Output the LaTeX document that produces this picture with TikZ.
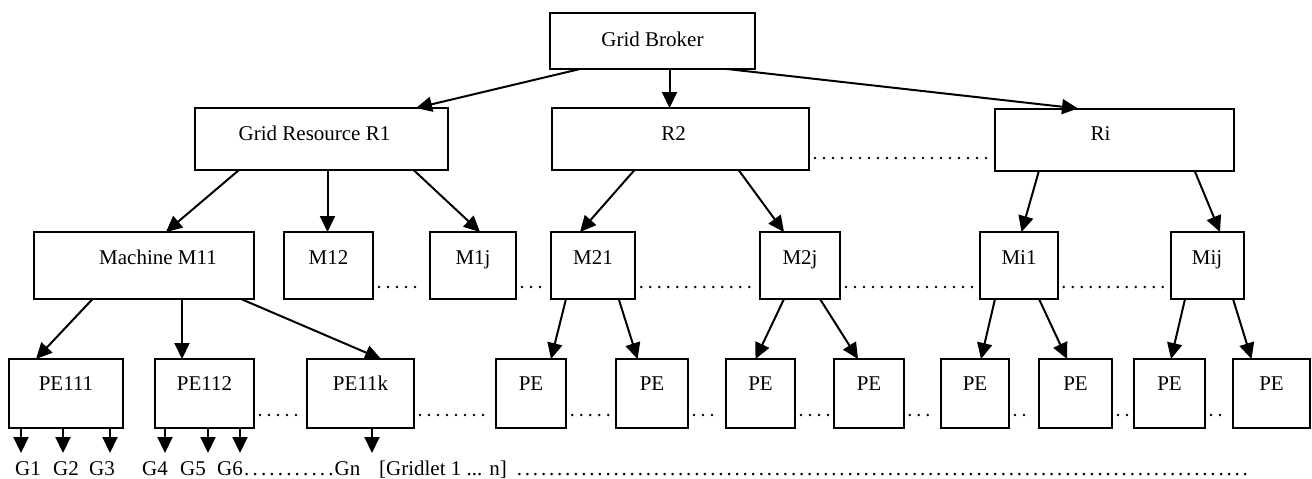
\documentclass[tikz,border=0pt]{standalone}
\usepackage{fontspec}
\setmainfont{Liberation Serif}
\usetikzlibrary{arrows.meta}
\newcommand{\dotrow}[1]{\makebox[#1]{\xleaders\hbox to 4pt{\hss.\hss}\hfill}}
\begin{document}
\begin{tikzpicture}[x=0.5pt,y=-0.5pt,
 font=\fontsize{10.5}{12}\selectfont,
 box/.style={draw, line width=1pt, inner sep=0pt, outer sep=0pt, text height=7pt},
 rowB/.style={box, text depth=2pt, minimum height=28pt},
 rowR/.style={box, text depth=6pt, minimum height=31pt},
 rowM/.style={box, text depth=8.5pt, minimum height=33.5pt},
 rowP/.style={box, text depth=10.5pt, minimum height=34.5pt},
 arr/.style={line width=1pt, -{Triangle[length=8pt,width=7.5pt]}},
 dots/.style={line width=1.4pt, line cap=round, dash pattern=on 0pt off 4.5pt, shorten <=3pt, shorten >=3pt},
 lbl/.style={anchor=base, inner sep=0pt}]
\useasboundingbox (0,0) rectangle (1312,478);

% top
\node[rowB, minimum width=102.5pt] (broker) at (652.5,41) {Grid Broker};
% resources
\node[rowR, minimum width=126.5pt] (r1) at (321.5,139) {Grid Resource R1\hspace*{7pt}};
\node[rowR, minimum width=128.5pt] (r2) at (680.5,139) {R2\hspace*{7pt}};
\node[rowR, minimum width=119.5pt] (ri) at (1114.5,139.5) {Ri\hspace*{14pt}};
% machines
\node[rowM, minimum width=110pt] (m11) at (144,265.5) {\hspace*{14pt}Machine M11};
\node[rowM, minimum width=44.5pt] (m12) at (328.5,265.5) {M12};
\node[rowM, minimum width=43pt] (m1j) at (473,265.5) {M1j};
\node[rowM, minimum width=42.25pt] (m21) at (593,265.5) {M21};
\node[rowM, minimum width=40pt] (m2j) at (800,265.5) {M2j};
\node[rowM, minimum width=38.75pt] (mi1) at (1019,265.5) {Mi1};
\node[rowM, minimum width=36.5pt] (mij) at (1207,265.5) {Mij};
% processing elements
\node[rowP, minimum width=57pt] (pe111) at (66,393.5) {PE111};
\node[rowP, minimum width=49.5pt] (pe112) at (204.5,393.5) {PE112};
\node[rowP, minimum width=53.5pt] (pe11k) at (360.5,393.5) {PE11k};
\node[rowP, minimum width=35.25pt] (p1) at (531,393.5) {PE};
\node[rowP, minimum width=36pt] (p2) at (652,393.5) {PE};
\node[rowP, minimum width=34.5pt] (p3) at (760.5,393.5) {PE};
\node[rowP, minimum width=34.75pt] (p4) at (869,393.5) {PE};
\node[rowP, minimum width=34pt] (p5) at (975,393.5) {PE};
\node[rowP, minimum width=36.5pt] (p6) at (1075.5,393.5) {PE};
\node[rowP, minimum width=35.5pt] (p7) at (1169.5,393.5) {PE};
\node[rowP, minimum width=38.5pt] (p8) at (1271.5,393.5) {PE};

% arrows broker -> resources
\draw[arr] (580,0 |- broker.south) -- (416,0 |- r1.north);
\draw[arr] (669.5,0 |- broker.south) -- (669.5,0 |- r2.north);
\draw[arr] (727,0 |- broker.south) -- (1078,0 |- ri.north);
% resources -> machines
\draw[arr] (239,0 |- r1.south) -- (166,0 |- m11.north);
\draw[arr] (327.5,0 |- r1.south) -- (327.5,0 |- m12.north);
\draw[arr] (413.6,0 |- r1.south) -- (480,0 |- m1j.north);
\draw[arr] (634.5,0 |- r2.south) -- (580,0 |- m21.north);
\draw[arr] (738.6,0 |- r2.south) -- (784,0 |- m2j.north);
\draw[arr] (1039,0 |- ri.south) -- (1021.5,0 |- mi1.north);
\draw[arr] (1194.5,0 |- ri.south) -- (1220,0 |- mij.north);
% machines -> PEs
\draw[arr] (92.6,0 |- m11.south) -- (36,0 |- pe111.north);
\draw[arr] (182,0 |- m11.south) -- (182,0 |- pe112.north);
\draw[arr] (241,0 |- m11.south) -- (381,0 |- pe11k.north);
\draw[arr] (566,0 |- m21.south) -- (551,0 |- p1.north);
\draw[arr] (618.7,0 |- m21.south) -- (637.6,0 |- p2.north);
\draw[arr] (784,0 |- m2j.south) -- (755.5,0 |- p3.north);
\draw[arr] (820,0 |- m2j.south) -- (858,0 |- p4.north);
\draw[arr] (995,0 |- mi1.south) -- (981,0 |- p5.north);
\draw[arr] (1039,0 |- mi1.south) -- (1067,0 |- p6.north);
\draw[arr] (1185,0 |- mij.south) -- (1171,0 |- p7.north);
\draw[arr] (1233,0 |- mij.south) -- (1251.5,0 |- p8.north);

% dotted links
\draw[dots] (r2.east |- 0,158) -- (ri.west |- 0,158);
\draw[dots] (m12.east |- 0,287) -- (m1j.west |- 0,287);
\draw[dots] (m1j.east |- 0,287) -- (m21.west |- 0,287);
\draw[dots] (m21.east |- 0,287) -- (m2j.west |- 0,287);
\draw[dots] (m2j.east |- 0,287) -- (mi1.west |- 0,287);
\draw[dots] (mi1.east |- 0,287) -- (mij.west |- 0,287);
\draw[dots] (pe112.east |- 0,415) -- (pe11k.west |- 0,415);
\draw[dots] (pe11k.east |- 0,415) -- (p1.west |- 0,415);
\draw[dots] (p1.east |- 0,415) -- (p2.west |- 0,415);
\draw[dots] (p2.east |- 0,415) -- (p3.west |- 0,415);
\draw[dots] (p3.east |- 0,415) -- (p4.west |- 0,415);
\draw[dots] (p4.east |- 0,415) -- (p5.west |- 0,415);
\draw[dots] (p5.east |- 0,415) -- (p6.west |- 0,415);
\draw[dots] (p6.east |- 0,415) -- (p7.west |- 0,415);
\draw[dots] (p7.east |- 0,415) -- (p8.west |- 0,415);

% gridlet arrows
\coordinate (a1) at (21,453);
\coordinate (a2) at (63,453);
\coordinate (a3) at (110,453);
\coordinate (a4) at (165,453);
\coordinate (a5) at (208,453);
\coordinate (a6) at (240,453);
\coordinate (a7) at (372,453);
\draw[arr] (pe111.south -| a1) -- (a1);
\draw[arr] (pe111.south -| a2) -- (a2);
\draw[arr] (pe111.south -| a3) -- (a3);
\draw[arr] (pe112.south -| a4) -- (a4);
\draw[arr] (pe112.south -| a5) -- (a5);
\draw[arr] (pe112.south -| a6) -- (a6);
\draw[arr] (pe11k.south -| a7) -- (a7);

% gridlet labels
\node[lbl] (g1) at (28,475) {G1};
\node[lbl] (g2) at (66,475) {G2};
\node[lbl] (g3) at (102,475) {G3};
\node[lbl] (g4) at (155,475) {G4};
\node[lbl] (g5) at (193,475) {G5};
\node[lbl] (g6) at (230,475) {G6};
\node[lbl, anchor=base west] (d1) at (242,475) {\dotrow{46.5pt}};
\node[lbl] (gn) at (347.5,475) {Gn};
\node[lbl] (gl) at (443,475) {[Gridlet 1 ... n]};
\node[lbl, anchor=base west] (d2) at (515,475) {\dotrow{367pt}};
\end{tikzpicture}
\end{document}
